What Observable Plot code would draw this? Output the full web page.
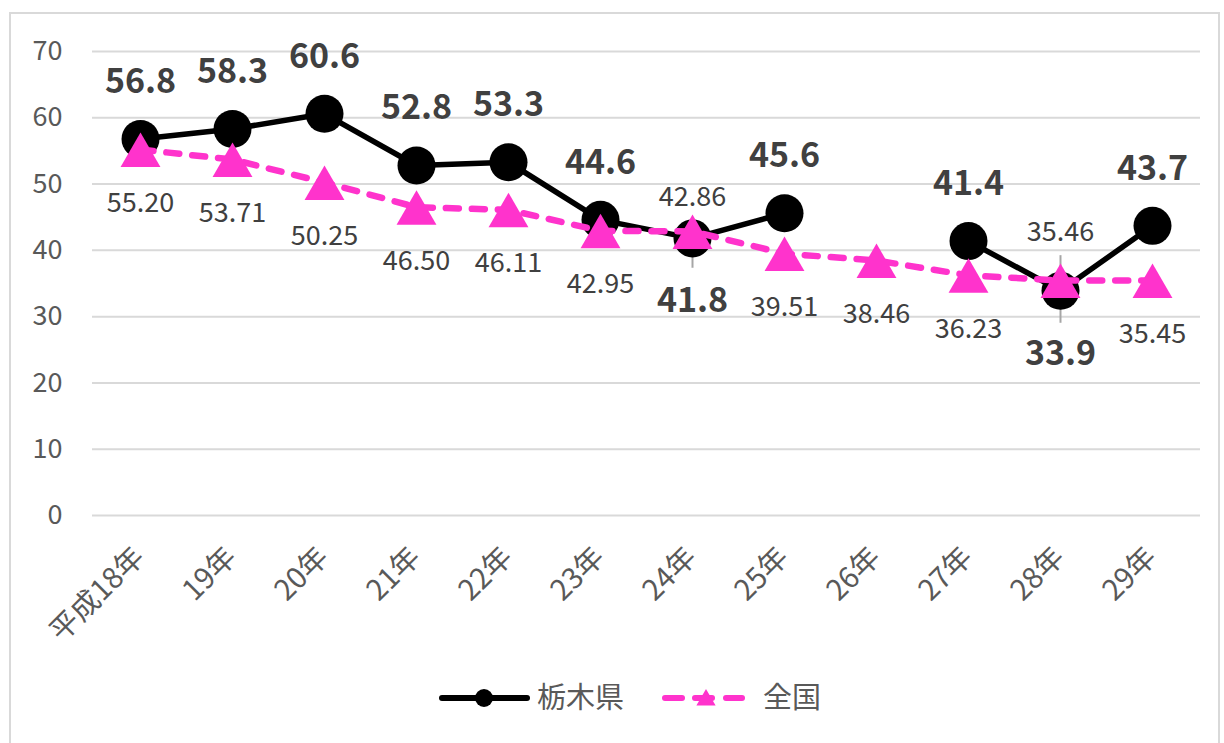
<!DOCTYPE html>
<html>
<head>
<meta charset="utf-8">
<script src="https://cdn.jsdelivr.net/npm/d3@7"></script>
<script src="https://cdn.jsdelivr.net/npm/@observablehq/plot@0.6"></script>
<style>
  html, body { margin: 0; padding: 0; background: #fff; }
  body { width: 1224px; height: 743px; position: relative; overflow: hidden;
         font-family: "Noto Sans CJK JP", "Noto Sans", sans-serif; }
  #frame { position: absolute; left: 9px; top: 12px; width: 1211px; height: 760px;
           border: 2px solid #d9d9d9; box-sizing: border-box; }
  #chart { position: absolute; left: 0; top: 0; }
  #legend { position: absolute; left: 0; top: 658px; width: 1224px; }
</style>
</head>
<body>
<div id="frame"></div>
<div id="chart"></div>
<div id="legend"></div>
<script>
// ---- data ----
const categories = ["平成18年","19年","20年","21年","22年","23年","24年","25年","26年","27年","28年","29年"];
const tochigi = [56.8, 58.3, 60.6, 52.8, 53.3, 44.6, 41.8, 45.6, null, 41.4, 33.9, 43.7];
const zenkoku = [55.20, 53.71, 50.25, 46.50, 46.11, 42.95, 42.86, 39.51, 38.46, 36.23, 35.46, 35.45];
const yTicks = [0, 10, 20, 30, 40, 50, 60, 70];
const seriesNames = ["栃木県", "全国"];

// label placement (not data)
const tochigiBelow = new Set(["24年", "28年"]);
const zenkokuAboveDy = {"24年": -34, "28年": -48};
const leaders = [
  {x: "24年", y1: 41.8, y2: 37.3},
  {x: "28年", y1: 39.2, y2: 29.0}
];

const tRows = categories.map((c, i) => ({x: c, y: tochigi[i]}));
const zRows = categories.map((c, i) => ({x: c, y: zenkoku[i]}));
const tValid = tRows.filter(d => d.y != null);

const PINK = "#ff33cc";
const TXT = "#595959";
const font = '"Noto Sans CJK JP", "Noto Sans", sans-serif';

const chart = Plot.plot({
  width: 1224,
  height: 660,
  marginLeft: 92,
  marginRight: 24,
  marginTop: 51,
  marginBottom: 145,
  style: {fontFamily: font, fontSize: "26px", color: TXT, background: "transparent"},
  x: {type: "point", domain: categories, padding: 0.5},
  y: {domain: [0, 70]},
  marks: [
    Plot.ruleY(yTicks, {stroke: "#d9d9d9", strokeWidth: 2}),
    Plot.axisY({ticks: yTicks, tickSize: 0, tickPadding: 30, fontSize: 27, fill: TXT, label: null}),
    Plot.axisX({tickSize: 0, tickRotate: -45, tickPadding: 37, dx: -1, fontSize: 29, fill: TXT, label: null}),
    Plot.ruleX(leaders, {x: "x", y1: "y1", y2: "y2", stroke: "#a6a6a6", strokeWidth: 2}),
    Plot.line(tRows, {x: "x", y: "y", stroke: "#000", strokeWidth: 5.5}),
    Plot.dot(tValid, {x: "x", y: "y", r: 19, fill: "#000", stroke: "none"}),
    Plot.line(zRows, {x: "x", y: "y", stroke: PINK, strokeWidth: 6.5, strokeDasharray: "13,13", strokeLinecap: "round"}),
    Plot.dot(zRows, {x: "x", y: "y", symbol: "triangle", r: 14.8, dy: 6, fill: PINK, stroke: "none"}),
    // Tochigi labels
    Plot.text(tValid.filter(d => !tochigiBelow.has(d.x)), {x: "x", y: "y", text: d => d.y.toFixed(1), dy: -57, fontSize: 34, fontWeight: "bold", fill: "#404040"}),
    Plot.text(tValid.filter(d => tochigiBelow.has(d.x)), {x: "x", y: "y", text: d => d.y.toFixed(1), dy: 63, fontSize: 34, fontWeight: "bold", fill: "#404040"}),
    // National labels
    Plot.text(zRows.filter(d => !(d.x in zenkokuAboveDy)), {x: "x", y: "y", text: d => d.y.toFixed(2), dy: 54, fontSize: 27, fill: "#404040"}),
    Plot.text(zRows.filter(d => d.x === "24年"), {x: "x", y: "y", text: d => d.y.toFixed(2), dy: zenkokuAboveDy["24年"], fontSize: 27, fill: "#404040"}),
    Plot.text(zRows.filter(d => d.x === "28年"), {x: "x", y: "y", text: d => d.y.toFixed(2), dy: zenkokuAboveDy["28年"], fontSize: 27, fill: "#404040"})
  ]
});
document.getElementById("chart").appendChild(chart);

// legend
const LY = 40;
const legend = d3.select("#legend").append("svg").attr("width", 1224).attr("height", 80);
const g1 = legend.append("g");
g1.append("line").attr("x1", 442).attr("x2", 527).attr("y1", LY).attr("y2", LY)
  .attr("stroke", "#000").attr("stroke-width", 6).attr("stroke-linecap", "round");
g1.append("circle").attr("cx", 484).attr("cy", LY).attr("r", 9).attr("fill", "#000");
g1.append("text").attr("x", 537).attr("y", LY).attr("dy", "0.36em").attr("font-size", 29)
  .attr("fill", TXT).attr("font-family", font).text(seriesNames[0]);
const g2 = legend.append("g");
[[665, 682], [695, 712], [726, 742]].forEach(([a, b]) =>
  g2.append("line").attr("x1", a).attr("x2", b).attr("y1", LY).attr("y2", LY)
    .attr("stroke", PINK).attr("stroke-width", 6).attr("stroke-linecap", "round"));
g2.append("path").attr("d", d3.symbol(d3.symbolTriangle, 160)()).attr("transform", `translate(706,${LY + 2})`).attr("fill", PINK);
g2.append("text").attr("x", 763).attr("y", LY).attr("dy", "0.36em").attr("font-size", 29)
  .attr("fill", TXT).attr("font-family", font).text(seriesNames[1]);
</script>
</body>
</html>
